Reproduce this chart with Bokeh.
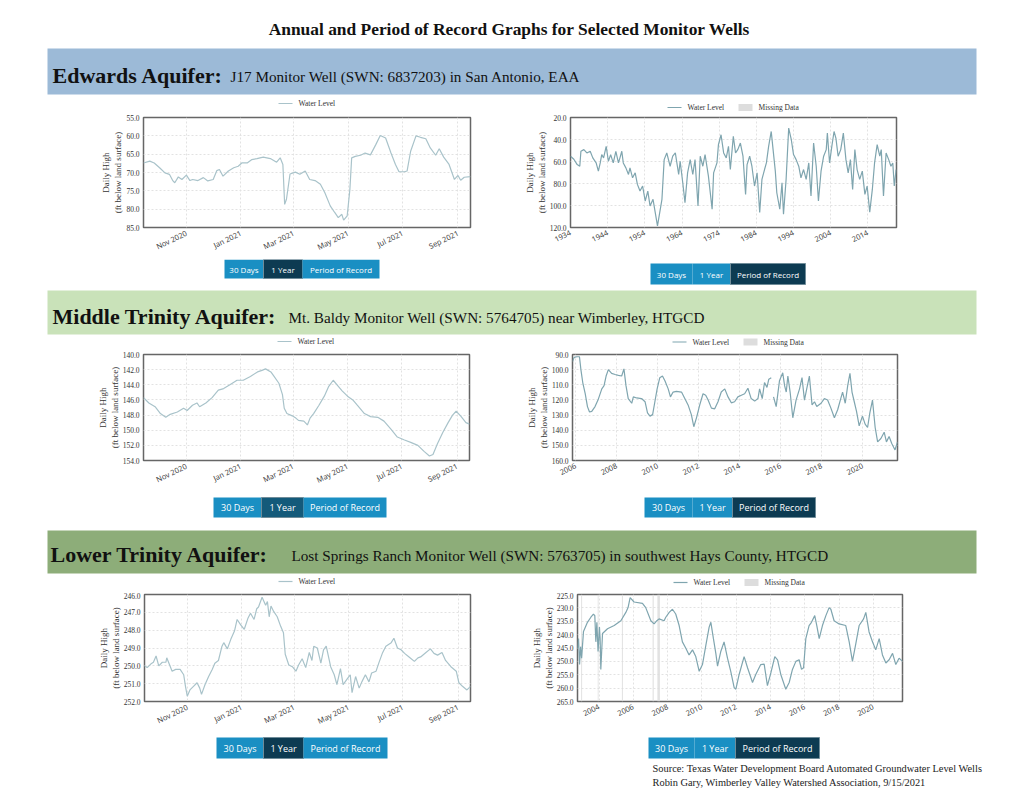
import pandas as pd
from bokeh.plotting import figure
from bokeh.models import (Range1d, FixedTicker, NumeralTickFormatter, DatetimeTickFormatter,
                          BasicTickFormatter)
from bokeh.layouts import column, row
from bokeh.embed import file_html
from bokeh.resources import INLINE
from bokeh.core.properties import value

NaN = float("nan")

# ---------------- texts ----------------
page_title = "Annual and Period of Record Graphs for Selected Monitor Wells"
aquifers = ["Edwards Aquifer:", "Middle Trinity Aquifer:", "Lower Trinity Aquifer:"]
wells = ["J17 Monitor Well (SWN: 6837203) in San Antonio, EAA",
         "Mt. Baldy Monitor Well (SWN: 5764705) near Wimberley, HTGCD",
         "Lost Springs Ranch Monitor Well (SWN: 5763705) in southwest Hays County, HTGCD"]
button_labels = ["30 Days", "1 Year", "Period of Record"]
source_lines = ["Source:  Texas Water Development Board Automated Groundwater Level Wells",
                "Robin Gary, Wimberley Valley Watershed Association, 9/15/2021"]
series_name = "Water Level"
missing_name = "Missing Data"
y_axis_title = "Daily High\n(ft below land surface)"

# ---------------- axes ----------------
year_window = ["2020-09-14", "2021-09-15"]
year_ticks = ["2020-11-01", "2021-01-01", "2021-03-01", "2021-05-01", "2021-07-01", "2021-09-01"]
edwards_por_window = [1934.0, 2021.7]
edwards_por_ticks = [1934, 1944, 1954, 1964, 1974, 1984, 1994, 2004, 2014]
middle_por_window = [2005.84, 2021.7]
middle_por_ticks = [2006, 2008, 2010, 2012, 2014, 2016, 2018, 2020]
lower_por_window = [2002.74, 2021.7]
lower_por_ticks = [2004, 2006, 2008, 2010, 2012, 2014, 2016, 2018, 2020]

edwards_year_y = [55, 60, 65, 70, 75, 80, 85]
edwards_por_y = [20, 40, 60, 80, 100, 120]
middle_year_y = [140, 142, 144, 146, 148, 150, 152, 154]
middle_por_y = [90, 100, 110, 120, 130, 140, 150, 160]
lower_year_y = [246, 247, 248, 249, 250, 251, 252]
lower_por_y = [225, 230, 235, 240, 245, 250, 255, 260, 265]

# ---------------- series (date, ft below land surface) ----------------
edwards_year = [
    ("2020-09-14", 67.4), ("2020-09-21", 66.9), ("2020-09-26", 67.4), ("2020-10-02", 68.7),
    ("2020-10-08", 70.1), ("2020-10-13", 70.5), ("2020-10-17", 72.3), ("2020-10-19", 72.8),
    ("2020-10-23", 71.2), ("2020-10-27", 71.9), ("2020-11-01", 70.7), ("2020-11-05", 72.2),
    ("2020-11-08", 71.9), ("2020-11-14", 72.2), ("2020-11-20", 71.4), ("2020-11-25", 72.3),
    ("2020-12-01", 71.9), ("2020-12-05", 69.5), ("2020-12-08", 69.2), ("2020-12-12", 71.0),
    ("2020-12-18", 69.6), ("2020-12-24", 68.7), ("2020-12-29", 68.3), ("2021-01-02", 67.4),
    ("2021-01-08", 67.4), ("2021-01-13", 66.5), ("2021-01-19", 66.2), ("2021-01-26", 65.8),
    ("2021-02-03", 66.2), ("2021-02-10", 67.2), ("2021-02-14", 66.0), ("2021-02-17", 67.8),
    ("2021-02-19", 78.7), ("2021-02-21", 77.3), ("2021-02-25", 70.4), ("2021-03-03", 69.9),
    ("2021-03-08", 70.5), ("2021-03-14", 69.6), ("2021-03-19", 71.9), ("2021-03-25", 72.2),
    ("2021-03-31", 73.2), ("2021-04-05", 75.5), ("2021-04-11", 79.1), ("2021-04-16", 80.9),
    ("2021-04-20", 82.3), ("2021-04-24", 81.4), ("2021-04-26", 83.0), ("2021-04-30", 81.8),
    ("2021-05-03", 74.6), ("2021-05-05", 66.0), ("2021-05-09", 65.6), ("2021-05-15", 65.3),
    ("2021-05-20", 64.7), ("2021-05-26", 65.2), ("2021-06-01", 62.4), ("2021-06-06", 59.9),
    ("2021-06-12", 60.6), ("2021-06-18", 64.7), ("2021-06-23", 67.8), ("2021-06-27", 69.8),
    ("2021-07-03", 69.8), ("2021-07-06", 69.6), ("2021-07-10", 64.2), ("2021-07-16", 60.0),
    ("2021-07-21", 60.4), ("2021-07-27", 60.8), ("2021-08-01", 63.3), ("2021-08-07", 65.3),
    ("2021-08-11", 63.5), ("2021-08-16", 65.8), ("2021-08-22", 67.8), ("2021-08-28", 71.9),
    ("2021-09-01", 70.8), ("2021-09-04", 72.1), ("2021-09-08", 71.3), ("2021-09-15", 71.1)]

edwards_por = [
    (1934.0, 55.2), (1934.9, 58), (1935.8, 62.8), (1936.5, 64.3), (1936.8, 50.7), (1937.6, 49.2),
    (1938.4, 52.2), (1939.3, 50.7), (1940.0, 56.7), (1940.9, 61.3), (1941.5, 68.8), (1942.0, 61.3),
    (1942.4, 53.7), (1942.9, 56.7), (1943.6, 46.2), (1944.2, 59.8), (1944.8, 53.7), (1945.5, 61.3),
    (1946.2, 50.7), (1946.9, 61.3), (1947.3, 56.7), (1947.8, 50.7), (1948.2, 61.3), (1948.9, 65.8),
    (1949.6, 71.8), (1950.0, 65.8), (1950.7, 74.8), (1951.4, 70.3), (1952.0, 80.8), (1952.7, 86.9),
    (1953.4, 82.3), (1954.1, 95.9), (1954.8, 86.9), (1955.4, 100.4), (1956.2, 94.4), (1956.8, 106.4),
    (1957.4, 118.5), (1958.0, 106.4), (1958.6, 94.4), (1959.2, 58.3), (1959.9, 52.2), (1960.8, 64.3),
    (1961.5, 55.2), (1962.2, 52.2), (1963.1, 71.8), (1963.5, 59.8), (1964.2, 79.3), (1964.8, 97.4),
    (1965.5, 70.3), (1966.2, 58.3), (1966.9, 71.8), (1967.5, 58.3), (1968.3, 100.4), (1968.9, 55.2),
    (1969.6, 64.3), (1970.2, 53.7), (1971.1, 73.3), (1972.1, 103.4), (1972.5, 70.3), (1973.4, 61.3),
    (1973.8, 44.7), (1974.5, 35.7), (1975.2, 52.2), (1975.9, 56.7), (1976.5, 46.2), (1977.0, 67.3),
    (1977.8, 37.2), (1978.4, 52.2), (1979.0, 49.2), (1979.7, 43.2), (1980.4, 55.2), (1981.1, 89.9),
    (1981.5, 62.8), (1982.2, 55.2), (1982.8, 64.3), (1983.5, 82.3), (1984.2, 70.3), (1984.9, 106.4),
    (1985.5, 76.3), (1986.2, 67.3), (1986.7, 61.3), (1987.3, 46.2), (1988.0, 32.7), (1988.5, 49.2),
    (1989.1, 68.8), (1989.5, 88.4), (1990.3, 103.4), (1990.9, 79.3), (1991.3, 108), (1992.0, 76.3),
    (1992.7, 29.6), (1993.4, 40.2), (1994.0, 53.7), (1994.7, 58.3), (1995.4, 64.3), (1996.0, 74.8),
    (1996.7, 67.3), (1997.4, 76.3), (1998.1, 61.3), (1998.7, 91.4), (1999.4, 43.2), (2000.1, 64.3),
    (2000.7, 95.9), (2001.4, 68.8), (2002.1, 55.2), (2002.8, 49.2), (2003.1, 34.2), (2003.7, 61.3),
    (2004.3, 46.2), (2004.9, 32.7), (2005.4, 38.7), (2006.0, 55.2), (2006.7, 49.2), (2007.4, 34.2),
    (2008.1, 58.3), (2008.7, 70.3), (2009.3, 58.3), (2009.9, 85.4), (2010.5, 49.2), (2011.1, 67.3),
    (2011.8, 76.3), (2012.5, 68.8), (2013.2, 89.9), (2013.8, 82.3), (2014.5, 106), (2015.2, 85.4),
    (2015.8, 61.3), (2016.5, 44.7), (2017.2, 55.2), (2017.6, 49.2), (2018.2, 91.4), (2018.9, 52.2),
    (2019.6, 58.3), (2020.2, 64.3), (2020.7, 61.3), (2021.1, 82.3), (2021.6, 67.3)]

middle_year = [
    ("2020-09-14", 145.7), ("2020-09-20", 146.4), ("2020-09-27", 146.9), ("2020-10-03", 147.8),
    ("2020-10-09", 148.3), ("2020-10-14", 147.9), ("2020-10-22", 147.6), ("2020-10-29", 147.1),
    ("2020-11-02", 147.4), ("2020-11-08", 146.7), ("2020-11-13", 146.4), ("2020-11-16", 146.9),
    ("2020-11-23", 146.4), ("2020-11-30", 145.7), ("2020-12-07", 144.7), ("2020-12-13", 144.5),
    ("2020-12-20", 144.0), ("2020-12-28", 143.4), ("2021-01-04", 143.4), ("2021-01-12", 142.9),
    ("2021-01-20", 142.3), ("2021-01-25", 142.1), ("2021-01-29", 141.9), ("2021-02-04", 142.3),
    ("2021-02-07", 142.8), ("2021-02-13", 143.8), ("2021-02-17", 145.3), ("2021-02-19", 147.1),
    ("2021-02-22", 147.8), ("2021-02-28", 148.1), ("2021-03-04", 148.4), ("2021-03-07", 148.7),
    ("2021-03-13", 148.8), ("2021-03-17", 149.3), ("2021-03-20", 148.4), ("2021-03-24", 147.8),
    ("2021-03-30", 146.7), ("2021-04-05", 145.5), ("2021-04-10", 144.2), ("2021-04-15", 143.4),
    ("2021-04-20", 144.1), ("2021-04-25", 144.8), ("2021-05-01", 145.5), ("2021-05-07", 146.0),
    ("2021-05-12", 146.7), ("2021-05-20", 147.8), ("2021-05-27", 148.2), ("2021-06-04", 148.3),
    ("2021-06-11", 148.8), ("2021-06-19", 149.9), ("2021-06-26", 150.9), ("2021-07-04", 151.3),
    ("2021-07-11", 151.6), ("2021-07-19", 152.0), ("2021-07-26", 152.8), ("2021-08-01", 153.4),
    ("2021-08-05", 153.2), ("2021-08-10", 151.8), ("2021-08-16", 150.3), ("2021-08-22", 149.0),
    ("2021-08-27", 148.0), ("2021-08-31", 147.5), ("2021-09-05", 148.1), ("2021-09-11", 149.0),
    ("2021-09-15", 149.2)]

middle_por = [
    (2005.84, 94.7), (2005.92, 91.9), (2006.05, 91.5), (2006.18, 91.5), (2006.25, 100),
    (2006.34, 108.5), (2006.46, 115.9), (2006.57, 124.4), (2006.67, 128), (2006.78, 127.6),
    (2006.94, 124.4), (2007.10, 119.5), (2007.27, 112.7), (2007.38, 110.6), (2007.48, 104.2),
    (2007.59, 100), (2007.75, 102.5), (2007.92, 103.2), (2008.08, 103.8), (2008.24, 104.2),
    (2008.35, 99.5), (2008.45, 110.6), (2008.56, 119.1), (2008.73, 122.2), (2008.81, 118),
    (2008.97, 118.7), (2009.21, 119.1), (2009.38, 121.2), (2009.50, 128.6), (2009.62, 130.7),
    (2009.75, 129.7), (2009.86, 121.2), (2009.97, 112.7), (2010.10, 105.3), (2010.23, 104.2),
    (2010.35, 107.4), (2010.51, 112.7), (2010.62, 118), (2010.75, 114.8), (2010.91, 114.4),
    (2011.16, 114.8), (2011.32, 119.1), (2011.48, 123.3), (2011.64, 129.7), (2011.76, 137.7),
    (2011.89, 131.8), (2012.05, 123.3), (2012.21, 115.9), (2012.34, 116.9), (2012.46, 120.1),
    (2012.62, 125.4), (2012.78, 125.9), (2012.94, 121.2), (2013.10, 114.8), (2013.27, 112.7),
    (2013.43, 118), (2013.59, 121.9), (2013.75, 121.2), (2013.91, 118), (2014.08, 116.9),
    (2014.24, 115.9), (2014.40, 112.3), (2014.56, 119.1), (2014.73, 120.8), (2014.89, 119.1),
    (2014.97, 112.7), (2015.10, 119.1), (2015.21, 108.5), (2015.33, 111.7), (2015.42, 106.3),
    (2015.54, 105.3), (2015.60, NaN), (2015.65, 118), (2015.78, 124.4), (2015.94, 107.4),
    (2016.10, 102.1), (2016.19, 110.6), (2016.27, 114.8), (2016.35, 104.2), (2016.46, 114.8),
    (2016.59, 131.8), (2016.75, 120.1), (2016.92, 112.7), (2017.04, 105.3), (2017.16, 120.1),
    (2017.27, 112.7), (2017.40, 104.2), (2017.53, 123.3), (2017.65, 121.2), (2017.76, 124.4),
    (2017.97, 122.2), (2018.13, 119.1), (2018.29, 120.1), (2018.45, 125.4), (2018.62, 131.8),
    (2018.78, 126.5), (2018.91, 120.1), (2019.02, 114.8), (2019.15, 122.2), (2019.27, 110.6),
    (2019.38, 102.5), (2019.48, 114.8), (2019.59, 121.2), (2019.70, 127.6), (2019.83, 137.1),
    (2019.99, 130.7), (2020.12, 136), (2020.24, 138.2), (2020.35, 128.6), (2020.48, 120.1),
    (2020.61, 138.2), (2020.73, 147.7), (2020.89, 145.5), (2021.05, 141.3), (2021.16, 147.7),
    (2021.29, 144.1), (2021.42, 148.8), (2021.58, 153), (2021.70, 147.7)]

lower_year = [
    ("2020-09-14", 250.0), ("2020-09-17", 250.1), ("2020-09-21", 249.9), ("2020-09-24", 249.8),
    ("2020-09-27", 249.45), ("2020-09-30", 250.0), ("2020-10-04", 249.8), ("2020-10-08", 249.8),
    ("2020-10-09", 249.55), ("2020-10-13", 250.05), ("2020-10-15", 250.3), ("2020-10-19", 250.2),
    ("2020-10-24", 250.2), ("2020-10-28", 250.5), ("2020-10-30", 251.15), ("2020-11-01", 251.7),
    ("2020-11-04", 251.35), ("2020-11-08", 251.15), ("2020-11-12", 250.95), ("2020-11-15", 251.25),
    ("2020-11-17", 251.6), ("2020-11-21", 251.05), ("2020-11-25", 250.6), ("2020-11-29", 250.2),
    ("2020-12-02", 249.85), ("2020-12-06", 249.7), ("2020-12-10", 248.9), ("2020-12-12", 248.7),
    ("2020-12-16", 249.05), ("2020-12-20", 248.5), ("2020-12-24", 248.05), ("2020-12-27", 247.4),
    ("2020-12-31", 247.7), ("2021-01-04", 247.95), ("2021-01-08", 247.35), ("2021-01-11", 247.05),
    ("2021-01-15", 247.4), ("2021-01-18", 246.8), ("2021-01-20", 246.7), ("2021-01-24", 246.15),
    ("2021-01-28", 246.6), ("2021-01-30", 246.4), ("2021-02-01", 247.25), ("2021-02-03", 246.65),
    ("2021-02-06", 246.95), ("2021-02-10", 247.25), ("2021-02-14", 247.8), ("2021-02-17", 248.15),
    ("2021-02-19", 249.35), ("2021-02-23", 249.95), ("2021-02-27", 250.05), ("2021-03-03", 250.3),
    ("2021-03-06", 249.95), ("2021-03-10", 249.6), ("2021-03-14", 250.1), ("2021-03-18", 249.25),
    ("2021-03-21", 249.7), ("2021-03-23", 248.9), ("2021-03-27", 249.0), ("2021-03-31", 249.85),
    ("2021-04-03", 249.1), ("2021-04-06", 248.9), ("2021-04-11", 250.05), ("2021-04-15", 250.5),
    ("2021-04-18", 251.05), ("2021-04-22", 250.15), ("2021-04-25", 251.05), ("2021-04-30", 250.7),
    ("2021-05-03", 250.5), ("2021-05-05", 251.5), ("2021-05-09", 250.6), ("2021-05-13", 251.25),
    ("2021-05-16", 250.9), ("2021-05-20", 250.5), ("2021-05-24", 250.9), ("2021-05-27", 250.4),
    ("2021-06-01", 250.3), ("2021-06-04", 249.85), ("2021-06-08", 249.3), ("2021-06-12", 248.9),
    ("2021-06-18", 248.7), ("2021-06-21", 248.45), ("2021-06-25", 249.0), ("2021-06-29", 249.1),
    ("2021-07-03", 249.3), ("2021-07-08", 249.5), ("2021-07-14", 249.75), ("2021-07-18", 249.55),
    ("2021-07-21", 249.5), ("2021-07-27", 249.25), ("2021-08-01", 249.05), ("2021-08-05", 249.3),
    ("2021-08-09", 249.4), ("2021-08-14", 249.25), ("2021-08-18", 249.7), ("2021-08-24", 250.05),
    ("2021-08-30", 250.3), ("2021-09-02", 250.95), ("2021-09-06", 251.15), ("2021-09-11", 251.35),
    ("2021-09-15", 251.15)]

lower_por = [
    (2002.74, 245.1), (2002.80, 241.5), (2002.86, 251.2), (2002.92, 244.5), (2002.98, 248.8),
    (2003.09, 238.8), (2003.32, 235.4), (2003.52, 233.5), (2003.67, 232.3), (2003.75, 232.9),
    (2003.81, 242.7), (2003.87, 235.4), (2003.94, 246.3), (2004.02, 237.2), (2004.06, 241.5),
    (2004.10, 253.0), (2004.20, 239.6), (2004.49, 237.8), (2004.88, 236.6), (2005.27, 234.8),
    (2005.56, 231.7), (2005.69, 229.9), (2005.81, 226.2), (2006.04, 227.8), (2006.53, 228.3),
    (2006.72, 229.9), (2007.02, 234.8), (2007.21, 236.0), (2007.37, 234.8), (2007.50, 234.1),
    (2007.79, 234.8), (2007.89, 233.5), (2008.09, 231.7), (2008.28, 230.5), (2008.47, 232.3),
    (2008.67, 236.6), (2008.86, 242.7), (2009.06, 245.1), (2009.25, 247.6), (2009.45, 245.7),
    (2009.64, 248.2), (2009.84, 253.7), (2010.03, 251.2), (2010.23, 243.9), (2010.42, 237.2),
    (2010.52, 235.4), (2010.67, 241.5), (2010.81, 247.0), (2010.91, 251.8), (2011.10, 246.3),
    (2011.29, 242.7), (2011.49, 248.8), (2011.68, 253.7), (2011.88, 259.8), (2011.98, 260.4),
    (2012.17, 254.9), (2012.46, 248.2), (2012.66, 252.4), (2012.95, 257.9), (2013.14, 254.9),
    (2013.43, 251.2), (2013.63, 251.0), (2013.82, 259.1), (2014.02, 254.3), (2014.25, 248.2),
    (2014.41, 249.4), (2014.60, 254.9), (2014.89, 260.4), (2015.09, 257.9), (2015.28, 253.0),
    (2015.48, 250.0), (2015.67, 249.4), (2015.81, 253.0), (2015.93, 252.4), (2016.06, 241.5),
    (2016.25, 236.6), (2016.39, 235.4), (2016.58, 232.9), (2016.70, 236.6), (2016.84, 241.5),
    (2017.03, 236.6), (2017.23, 232.9), (2017.42, 229.9), (2017.52, 230.5), (2017.71, 234.8),
    (2018.00, 236.0), (2018.39, 236.6), (2018.59, 242.7), (2018.78, 250.0), (2018.98, 243.3),
    (2019.17, 236.6), (2019.43, 234.1), (2019.56, 231.7), (2019.75, 239.0), (2019.95, 242.7),
    (2020.14, 245.7), (2020.34, 241.5), (2020.53, 247.6), (2020.73, 250.6), (2020.92, 249.4),
    (2021.12, 247.0), (2021.31, 251.2), (2021.50, 248.8), (2021.70, 250.0)]

# missing-data periods (decimal years)
edwards_missing = []
middle_missing = []
lower_missing = [(2002.95, 2003.01), (2003.92, 2003.97), (2005.33, 2005.39),
                 (2007.12, 2007.19), (2007.40, 2007.55)]

# ---------------- styling ----------------
SERIF = "Liberation Serif"
SANS = "Open Sans"
BLUE = "#1a8fc3"
DARK = "#0d3b52"
YEAR_LINE = "#a9c3ca"
POR_LINE = "#7fa5af"
MISSING_FILL = "#dddddd"
W = 1024
LEFT_W = 500
RIGHT_W = W - LEFT_W


def ms(d):
    return pd.Timestamp(d).value / 1e6


def chart(width, height, left, fw, top, fh, kind, window, xticks, yticks, pts,
          color, missing=None):
    right = width - left - fw
    bottom = height - top - fh
    ylo, yhi = yticks[0], yticks[-1]
    if kind == "date":
        xr = Range1d(pd.Timestamp(window[0]), pd.Timestamp(window[1]))
    else:
        xr = Range1d(window[0], window[1])
    p = figure(width=width, height=height, x_axis_type="datetime" if kind == "date" else "linear",
               x_range=xr, y_range=Range1d(yhi, ylo), toolbar_location=None,
               output_backend="svg", min_border_left=left, min_border_right=right,
               min_border_top=top, min_border_bottom=bottom,
               background_fill_color="white", border_fill_color="white")
    p.outline_line_color = "#666666"
    p.outline_line_width = 1.5
    if missing:
        p.quad(left=[m[0] for m in missing], right=[m[1] for m in missing],
               bottom=[yhi] * len(missing), top=[ylo] * len(missing),
               fill_color=MISSING_FILL, fill_alpha=0.85, line_color=None)
    xs, ys = zip(*pts)
    if kind == "date":
        xs = pd.to_datetime(list(xs))
    p.line(x=list(xs), y=list(ys), line_color=color, line_width=1.2)

    if kind == "date":
        p.xaxis.ticker = FixedTicker(ticks=[ms(t) for t in xticks])
        p.xaxis.formatter = DatetimeTickFormatter(months="%b %Y", days="%b %Y", years="%b %Y")
    else:
        p.xaxis.ticker = FixedTicker(ticks=xticks)
        p.xaxis.formatter = BasicTickFormatter(use_scientific=False)
    p.yaxis.ticker = FixedTicker(ticks=yticks)
    p.yaxis.formatter = NumeralTickFormatter(format="0.0")
    p.xaxis.major_label_orientation = 0.45
    p.axis.axis_line_color = None
    p.axis.major_tick_line_color = None
    p.axis.minor_tick_line_color = None
    p.axis.major_tick_out = 0
    p.axis.major_tick_in = 0
    p.axis.minor_tick_out = 0
    p.axis.minor_tick_in = 0
    p.axis.major_label_text_color = "#333333"
    p.xaxis.major_label_text_font = SANS
    p.xaxis.major_label_text_font_size = "7.5px"
    p.yaxis.major_label_text_font = SERIF
    p.yaxis.major_label_text_font_size = "7.5px"
    p.xaxis.major_label_standoff = 5
    p.yaxis.major_label_standoff = 4
    p.yaxis.axis_label = y_axis_title
    p.yaxis.axis_label_text_font = SERIF
    p.yaxis.axis_label_text_font_size = "9px"
    p.yaxis.axis_label_text_font_style = "normal"
    p.yaxis.axis_label_text_color = "#333333"
    p.yaxis.axis_label_standoff = 0
    p.grid.grid_line_color = "#e2e2e2"
    p.grid.grid_line_dash = "2 2"
    return p


def strip(h):
    p = figure(width=W, height=h, x_range=Range1d(0, W), y_range=Range1d(h, 0),
               toolbar_location=None, output_backend="svg", x_axis_location=None,
               y_axis_location=None, min_border=0, outline_line_color=None,
               background_fill_color="white", border_fill_color="white")
    p.grid.visible = False
    return p


def band(p, top, bot, color, i, x_title, x_sub, yc):
    p.quad(left=[47], right=[976], top=[top], bottom=[bot], fill_color=color, line_color=None)
    p.text(x=[x_title], y=[yc], text=[aquifers[i]], text_font=value(SERIF),
           text_font_style="bold", text_font_size="22px", text_baseline="middle",
           text_color="#111111")
    p.text(x=[x_sub], y=[yc + 1], text=[wells[i]], text_font=value(SERIF),
           text_font_size="15.2px", text_baseline="middle", text_color="#111111")


def buttons(p, x0, top, bot, widths, active, size="8.5px", active_color=DARK):
    x = x0
    for i, (lab, w) in enumerate(zip(button_labels, widths)):
        on = i == active
        p.quad(left=[x], right=[x + w], top=[top], bottom=[bot],
               fill_color=active_color if on else BLUE,
               line_color="#6f8c99" if on else None, line_width=1)
        p.text(x=[x + w / 2], y=[(top + bot) / 2], text=[lab], text_align="center",
               text_baseline="middle", text_font=value(SANS), text_font_size=size,
               text_color="white")
        x += w


def legend(p, x0, y, color, with_missing):
    """Chart legend drawn just above a chart frame."""
    p.line(x=[x0, x0 + 14], y=[y, y], line_color=color, line_width=1.2)
    p.text(x=[x0 + 20], y=[y], text=[series_name], text_baseline="middle",
           text_font=value(SERIF), text_font_size="7.5px", text_color="#333333")
    if with_missing:
        p.quad(left=[x0 + 71], right=[x0 + 85], top=[y - 3.5], bottom=[y + 3.5],
               fill_color=MISSING_FILL, line_color=None)
        p.text(x=[x0 + 91], y=[y], text=[missing_name], text_baseline="middle",
               text_font=value(SERIF), text_font_size="7.5px", text_color="#333333")


# ---------------- header + row 1 legends ----------------
s0 = strip(113)
s0.text(x=[509], y=[28], text=[page_title], text_align="center", text_baseline="middle",
        text_font=value(SERIF), text_font_style="bold", text_font_size="17.4px",
        text_color="#111111")
band(s0, 48, 94, "#9cbad7", 0, 52, 230, 75)
legend(s0, 278, 103, YEAR_LINE, False)
legend(s0, 667, 107, POR_LINE, True)

# ---------------- row 1 (both frames share top/bottom) ----------------
c1l = chart(LEFT_W, 146, 143, 327, 4, 111, "date", year_window, year_ticks, edwards_year_y,
            edwards_year, YEAR_LINE)
c1r = chart(RIGHT_W, 146, 70, 326, 4, 111, "num", edwards_por_window, edwards_por_ticks,
            edwards_por_y, edwards_por, POR_LINE, edwards_missing)

s1 = strip(92)
buttons(s1, 224, 0, 19, [39, 39, 77], 1, "8px")
buttons(s1, 650, 4, 25, [42, 38, 75], 2, "8px")
band(s1, 31, 75, "#c9e2b9", 1, 52, 288, 57)
legend(s1, 277, 82, YEAR_LINE, False)
legend(s1, 672, 82.5, POR_LINE, True)

# ---------------- row 2 ----------------
c2l = chart(LEFT_W, 141, 143, 326, 3, 110, "date", year_window, year_ticks, middle_year_y,
            middle_year, YEAR_LINE)
c2r = chart(RIGHT_W, 141, 72, 325, 3, 110, "num", middle_por_window, middle_por_ticks,
            middle_por_y, middle_por, POR_LINE, middle_missing)

s2 = strip(100)
buttons(s2, 213, 5, 25, [48, 42, 83], 1, "9px", "#145a7a")
buttons(s2, 644, 5, 25, [48, 40, 83], 2, "9px")
band(s2, 38, 81, "#8dad79", 2, 50, 291, 62)
legend(s2, 278, 89, YEAR_LINE, False)
legend(s2, 673, 90, POR_LINE, True)

# ---------------- row 3 ----------------
c3l = chart(LEFT_W, 141, 144, 326, 2, 111, "date", year_window, year_ticks, lower_year_y,
            lower_year, YEAR_LINE)
c3r = chart(RIGHT_W, 141, 77, 325, 2, 111, "num", lower_por_window, lower_por_ticks,
            lower_por_y, lower_por, POR_LINE, lower_missing)

s3 = strip(57)
buttons(s3, 216, 4, 25, [47, 40, 84], 1, "9px")
buttons(s3, 648, 4, 25, [46, 41, 84], 2, "9px")
s3.text(x=[652, 652], y=[35, 49], text=source_lines, text_baseline="middle",
        text_font=value(SERIF), text_font_size="10.4px", text_color="#222222")

layout = column(s0, row(c1l, c1r), s1, row(c2l, c2r), s2, row(c3l, c3r), s3)

open("out.html", "w").write(file_html(layout, INLINE))
